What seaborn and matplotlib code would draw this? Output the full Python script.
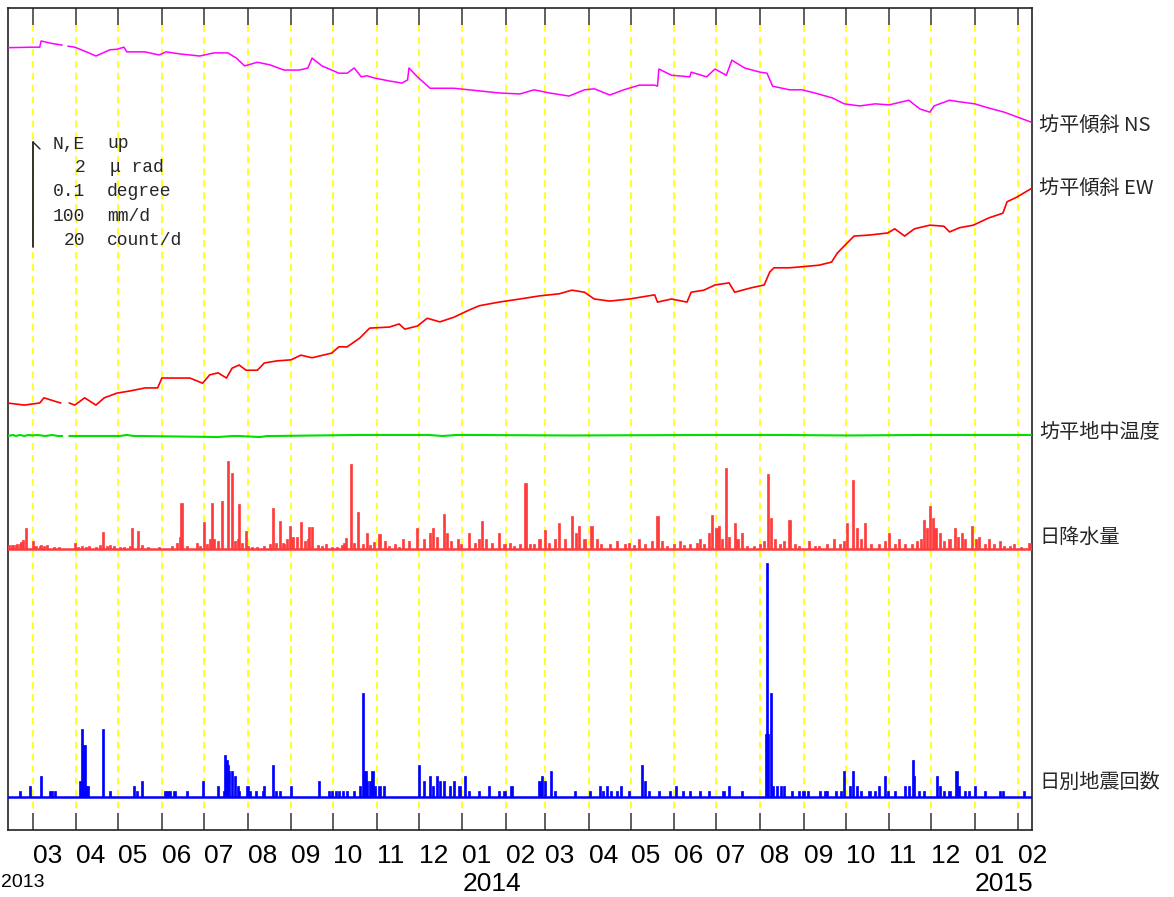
import numpy as np
import pandas as pd
import matplotlib
matplotlib.use("Agg")
import matplotlib.pyplot as plt
import matplotlib.dates as mdates
from matplotlib.lines import Line2D
from matplotlib import font_manager as fm
import seaborn as sns

# ---------------- data (day index counted from 2013-02-11) ----------------
START = pd.Timestamp("2013-02-11")

ns_day = [0, 18, 23, 24, 30, 39, 43, 48, 58, 63, 73, 78, 83, 85, 98, 108, 113, 123, 137, 147,
          157, 163, 169, 178, 187, 197, 208, 214, 217, 224, 231, 236, 242, 247, 252, 256, 261, 272, 281, 285,
          286, 292, 301, 318, 336, 350, 365, 375, 386, 400, 411, 418, 429, 439, 450, 461, 463, 464, 473, 486,
          487, 498, 504, 512, 516, 525, 536, 541, 545, 557, 566, 575, 588, 596, 607, 618, 628, 642, 650, 657,
          660, 671, 678, 689, 699, 710, 721, 729]
ns_urad = [0.00, 0.01, 0.01, 0.13, 0.09, 0.05, 0.03, 0.01, -0.10, -0.16,
           -0.04, -0.03, 0.01, -0.08, -0.08, -0.14, -0.08, -0.12, -0.16, -0.10,
           -0.10, -0.20, -0.35, -0.28, -0.33, -0.43, -0.43, -0.39, -0.20, -0.35,
           -0.43, -0.49, -0.49, -0.39, -0.56, -0.54, -0.58, -0.64, -0.68, -0.62,
           -0.39, -0.56, -0.78, -0.78, -0.83, -0.87, -0.89, -0.81, -0.87, -0.93,
           -0.81, -0.79, -0.91, -0.81, -0.72, -0.72, -0.74, -0.41, -0.53, -0.56,
           -0.47, -0.56, -0.41, -0.53, -0.24, -0.39, -0.47, -0.49, -0.74, -0.81,
           -0.81, -0.87, -0.97, -1.08, -1.12, -1.08, -1.10, -1.01, -1.18, -1.24,
           -1.12, -1.01, -1.04, -1.08, -1.16, -1.24, -1.35, -1.43]

ew_day = [0, 12, 23, 26, 33, 38, 44, 48, 55, 63, 69, 78, 87, 98, 107, 110, 130, 139, 144, 150,
          156, 160, 165, 170, 178, 183, 192, 202, 209, 217, 231, 236, 242, 251, 258, 272, 279, 283, 292, 299,
          308, 318, 329, 336, 350, 365, 379, 393, 402, 411, 418, 429, 443, 461, 463, 473, 484, 487, 496, 504,
          514, 518, 529, 539, 543, 546, 557, 566, 578, 587, 591, 596, 603, 614, 627, 632, 639, 646, 657, 667,
          671, 678, 688, 699, 709, 712, 719, 729]
ew_urad = [0.00, -0.04, 0.00, 0.10, 0.04, 0.00, 0.00, -0.04, 0.10, -0.04,
           0.10, 0.19, 0.23, 0.29, 0.29, 0.48, 0.48, 0.38, 0.54, 0.58,
           0.48, 0.67, 0.73, 0.63, 0.63, 0.77, 0.81, 0.83, 0.92, 0.87,
           0.96, 1.08, 1.08, 1.25, 1.44, 1.46, 1.52, 1.42, 1.48, 1.63,
           1.56, 1.65, 1.79, 1.87, 1.94, 2.00, 2.06, 2.10, 2.17, 2.13,
           2.00, 1.96, 2.00, 2.08, 1.94, 2.00, 1.94, 2.13, 2.17, 2.27,
           2.31, 2.13, 2.21, 2.27, 2.52, 2.60, 2.60, 2.62, 2.65, 2.71,
           2.88, 3.02, 3.21, 3.23, 3.27, 3.35, 3.21, 3.35, 3.42, 3.40,
           3.29, 3.37, 3.42, 3.56, 3.65, 3.87, 3.96, 4.12]

temp_day = [0, 4, 6, 9, 12, 15, 18, 21, 27, 32, 36, 39, 44, 80, 85, 90, 95, 150, 160, 165,
            180, 185, 190, 250, 300, 310, 320, 330, 400, 500, 550, 600, 650, 700, 729]
temp_dev = [0, 0.001, 0, 0.001, 0, 0.001, 0.0005, 0.001, 0, 0.001,
            0, 0, 0, 0, 0.001, 0, 0, -0.001, 0, 0,
            -0.001, 0, 0, 0.001, 0.001, 0, 0.001, 0.001, 0.0005, 0.001,
            0.001, 0.0005, 0.001, 0.001, 0.001]
gap_after_day = 39   # record missing for a few days after this day

rain_day = [0, 1, 3, 4, 6, 7, 9, 10, 11, 13, 18, 20, 23, 24, 26, 28, 33, 37, 48, 50,
            53, 56, 58, 63, 66, 68, 71, 73, 76, 80, 83, 87, 89, 93, 96, 100, 108, 117, 121, 123,
            124, 128, 135, 137, 140, 142, 144, 146, 147, 150, 153, 157, 160, 162, 164, 165, 167, 170, 171, 174,
            178, 183, 187, 189, 191, 194, 196, 197, 199, 201, 203, 206, 209, 212, 214, 215, 217, 221, 224, 227,
            231, 235, 238, 240, 241, 245, 247, 250, 253, 256, 258, 261, 265, 269, 272, 276, 279,
            282, 286, 292, 297, 301, 303, 306, 311, 313, 316, 321, 323, 329, 333, 336, 338, 341, 345, 350, 354,
            358, 361, 365, 369, 372, 375, 379, 383, 386, 390, 393, 397, 402, 405, 407, 411, 416, 420, 423, 429,
            434, 440, 443, 446, 450, 454, 459, 463, 466, 470, 475, 479, 482, 486, 491, 493, 496, 500, 502, 505,
            507, 509, 512, 514, 518, 520, 523, 527, 532, 536, 539, 542, 544, 547, 550, 553, 557, 561, 564, 571,
            575, 578, 584, 589, 593, 596, 598, 602, 605, 608, 611, 615, 621, 625, 628, 632, 635, 639, 644, 648,
            651, 653, 655, 657, 659, 661, 664, 667, 671, 675, 677, 680, 682, 687, 690, 692, 696, 699, 703, 707,
            710, 714, 717, 722, 728]
rain_mm = [4, 4, 4, 4, 4, 5, 5, 7, 9, 20, 8, 3, 3, 4, 3, 4, 2, 2, 6, 2,
           3, 2, 3, 2, 4, 16, 3, 4, 3, 2, 2, 3, 20, 17, 4, 2, 2, 3, 6, 12,
           44, 3, 6, 3, 26, 5, 10, 44, 10, 8, 46, 85, 73, 8, 10, 43, 6, 17, 3, 2,
           2, 3, 5, 39, 6, 27, 6, 5, 10, 22, 12, 12, 26, 8, 10, 21, 21, 4, 3, 5,
           2, 2, 4, 6, 11, 82, 6, 36, 5, 15, 4, 7, 14, 8, 3, 5, 2,
           10, 8, 20, 10, 15, 20, 12, 34, 15, 8, 10, 5, 15, 6, 10, 27, 10, 6, 15, 5,
           6, 3, 5, 63, 5, 5, 10, 18, 6, 10, 25, 10, 32, 15, 22, 10, 22, 10, 5, 5,
           8, 5, 6, 4, 10, 5, 8, 32, 8, 3, 5, 8, 4, 5, 6, 10, 5, 15, 33, 20,
           22, 10, 78, 12, 25, 10, 15, 3, 3, 5, 8, 72, 30, 10, 5, 8, 28, 5, 3, 8,
           3, 3, 5, 10, 5, 8, 25, 66, 20, 10, 25, 5, 5, 8, 15, 5, 10, 5, 5, 8,
           10, 28, 20, 41, 30, 20, 15, 8, 10, 20, 12, 15, 10, 22, 10, 12, 5, 10, 5, 8,
           3, 3, 5, 2, 6]

quake_day = [9, 16, 24, 30, 32, 34, 52, 53, 54, 55, 56, 57, 68, 73, 90, 92, 96, 112, 114, 116,
             119, 128, 139, 150, 154, 155, 156, 157, 158, 160, 162, 164, 165, 171, 173, 177, 182, 183, 189, 191,
             194, 202, 222, 229, 231, 234, 236, 239, 242, 247, 251, 253, 254, 255, 256, 258, 260, 262, 265, 268,
             293, 297, 301, 303, 306, 308, 311, 315, 318, 322, 326, 329, 336, 343, 350, 354, 359, 379, 381, 383,
             387, 390, 404, 415, 422, 424, 427, 430, 434, 437, 443, 452, 454, 457, 464, 472, 476, 481, 486, 493,
             500, 510, 514, 523, 540, 541, 542, 544, 545, 548, 551, 553, 559, 564, 567, 570, 579, 582, 584, 590,
             594, 596, 600, 602, 605, 608, 614, 618, 621, 625, 627, 632, 639, 642, 645, 646, 649, 653, 662, 664,
             667, 671, 676, 678, 682, 685, 689, 696, 707, 709, 724]
quake_count = [1, 2, 4, 1, 1, 1, 3, 13, 10, 10, 2, 2, 13, 1, 2, 1, 3, 1, 1, 1,
               1, 1, 3, 2, 1, 8, 7, 6, 5, 5, 4, 2, 1, 2, 1, 1, 1, 2, 6, 1,
               1, 2, 3, 1, 1, 1, 1, 1, 1, 1, 2, 20, 5, 5, 3, 3, 5, 2, 2, 2,
               6, 3, 4, 2, 4, 3, 3, 2, 3, 2, 4, 1, 1, 2, 1, 1, 2, 3, 4, 3,
               5, 1, 1, 1, 2, 1, 2, 1, 1, 2, 1, 6, 3, 1, 1, 1, 2, 1, 1, 1,
               1, 1, 2, 1, 12, 45, 12, 20, 2, 2, 2, 2, 1, 1, 1, 1, 1, 1, 1, 1,
               1, 5, 2, 5, 2, 1, 1, 1, 2, 4, 1, 1, 2, 2, 7, 4, 1, 1, 4, 2,
               1, 1, 5, 2, 1, 1, 2, 1, 1, 1, 1]

month_labels = ["03", "04", "05", "06", "07", "08", "09", "10", "11", "12", "01", "02",
                "03", "04", "05", "06", "07", "08", "09", "10", "11", "12", "01", "02"]
year_labels = {"2014": "2014-01-01", "2015": "2015-01-01"}
first_year_label = "2013"
series_labels = ["坊平傾斜 NS", "坊平傾斜 EW", "坊平地中温度", "日降水量", "日別地震回数"]
legend_nums = ["N,E", "2", "0.1", "100", "20"]
legend_units = ["up", "μ rad", "degree", "mm/d", "count/d"]

# ---------------- style ----------------
sns.set_style("white")
names = {f.name for f in fm.fontManager.ttflist}
plt.rcParams["font.family"] = ["DejaVu Sans"]
plt.rcParams["lines.scale_dashes"] = False
MONTH_FONT = "Liberation Sans Narrow" if "Liberation Sans Narrow" in names else "Liberation Sans"
MONO_FONT = "Liberation Mono" if "Liberation Mono" in names else "DejaVu Sans Mono"
CJK = ["Noto Sans CJK JP", "DejaVu Sans"]

W, H = 1174, 897
fig = plt.figure(figsize=(W / 100, H / 100), dpi=100)
fig.patch.set_facecolor("white")
L, R, T, B = 8, 1032, 8, 830
ax = fig.add_axes([L / W, (H - B) / H, (R - L) / W, (B - T) / H])
ax.set_facecolor("white")
ax.set_ylim(B, T)   # vertical axis measured in rows from the top of the figure

# vertical scales (rows per unit) and zero levels
PX_URAD = 52.0
PX_MM = 1.04
PX_COUNT = 5.2
PX_DEG = 1040.0
NS_ZERO, EW_ZERO, TEMP_ZERO, RAIN_BASE, QUAKE_BASE = 47.7, 403.0, 436.0, 549.0, 796.5


def to_num(days):
    return mdates.date2num(START + pd.to_timedelta(np.asarray(days, dtype=float), unit="D"))


def line_df(days, vals, zero, scale):
    d = np.asarray(days, dtype=float)
    return pd.DataFrame({"x": to_num(d),
                         "row": zero - np.asarray(vals, dtype=float) * scale,
                         "seg": np.where(d <= gap_after_day, 0, 1)})


month_starts = pd.date_range("2013-03-01", "2015-02-01", freq="MS")
mx = mdates.date2num(month_starts)

# yellow month grid
ax.vlines(mx, 25, 812, colors="#ffff00", linestyles=(0, (5, 3.6)), linewidth=1.2, zorder=1)

# rain bars
RAIN_C = "#ff3b3b"
ax.bar(to_num(rain_day), -np.asarray(rain_mm) * PX_MM, bottom=RAIN_BASE, width=1.5,
       color=RAIN_C, edgecolor=RAIN_C, linewidth=0.5, zorder=3)
ax.axhline(RAIN_BASE, color=RAIN_C, lw=1.8, zorder=3)

# earthquake bars
ax.bar(to_num(quake_day), -np.asarray(quake_count) * PX_COUNT, bottom=QUAKE_BASE, width=1.5,
       color="#0000ff", edgecolor="#0000ff", linewidth=0.5, zorder=3)
ax.axhline(QUAKE_BASE, color="#0000ff", lw=1.8, zorder=3)

# lines
sns.lineplot(data=line_df(ns_day, ns_urad, NS_ZERO, PX_URAD), x="x", y="row", units="seg",
             estimator=None, color="#ff00ff", lw=1.1, ax=ax, legend=False, zorder=4)
sns.lineplot(data=line_df(ew_day, ew_urad, EW_ZERO, PX_URAD), x="x", y="row", units="seg",
             estimator=None, color="#ff0000", lw=1.2, ax=ax, legend=False, zorder=4)
sns.lineplot(data=line_df(temp_day, temp_dev, TEMP_ZERO, PX_DEG), x="x", y="row", units="seg",
             estimator=None, color="#00e000", lw=1.5, ax=ax, legend=False, zorder=4)

ax.set_xlim(mdates.date2num(START) + 0.4, mdates.date2num(pd.Timestamp("2015-02-10 18:00")))
ax.set_ylim(B, T)
ax.set_xlabel("")
ax.set_ylabel("")
ax.set_yticks([])
ax.set_xticks(mx)
ax.tick_params(axis="x", which="major", direction="in", length=12.3, width=1.1, color="#333333",
               top=True, bottom=True, labelbottom=False, labeltop=False)
for s in ax.spines.values():
    s.set_visible(True)
    s.set_color("#222222")
    s.set_linewidth(1.2)

# month / year labels
for x, lab in zip(mx, month_labels):
    ax.text(x, 856, lab, ha="left", va="center", fontsize=19, family=MONTH_FONT, color="black")
for lab, d in year_labels.items():
    ax.text(mdates.date2num(pd.Timestamp(d)), 884, lab, ha="left", va="center",
            fontsize=19, family=MONTH_FONT, color="black")
fig.text(1 / W, 1 - 882 / H, first_year_label, ha="left", va="center", fontsize=14,
         family="Liberation Sans", color="black")

# right-hand series labels
for lab, row in zip(series_labels, [125, 188, 432, 537, 782]):
    fig.text(1039 / W, 1 - row / H, lab, ha="left", va="center", fontsize=14.5, family=CJK)

# scale legend
fig.add_artist(Line2D([33 / W, 33 / W], [1 - 142 / H, 1 - 247 / H], transform=fig.transFigure,
                      color="#222222", lw=1.3))
fig.add_artist(Line2D([33 / W, 40 / W], [1 - 142 / H, 1 - 149 / H], transform=fig.transFigure,
                      color="#222222", lw=1.0))
for i, (n, u) in enumerate(zip(legend_nums, legend_units)):
    row = 144 + 24 * i
    fig.text(85 / W, 1 - row / H, n, ha="right", va="center", fontsize=13, family=MONO_FONT)
    ux = 110 if u.startswith("μ") else 107
    fig.text(ux / W, 1 - row / H, u, ha="left", va="center", fontsize=13, family=MONO_FONT)

fig.savefig("out.png", dpi=100, facecolor="white")
